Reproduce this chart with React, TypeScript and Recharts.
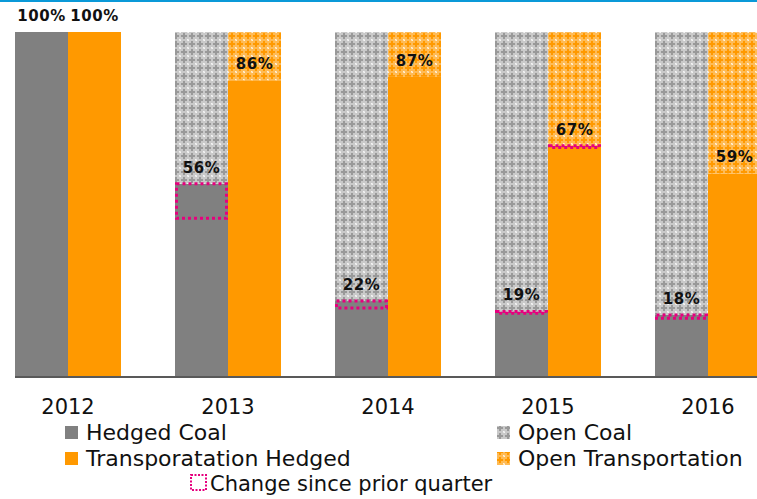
import React from "react";
import {
  BarChart,
  Bar,
  XAxis,
  YAxis,
  LabelList,
  ReferenceLine,
} from "recharts";

// values (percent of expected volume)
const years = ["2012", "2013", "2014", "2015", "2016"];
const hedgedCoal = [100, 56, 22, 19, 18];
const transHedged = [100, 86, 87, 67, 59];
// where the hedged level sat one quarter earlier (dotted "change" box)
const prevCoal: (number | null)[] = [null, 46, 20, 18.5, 17];
const prevTrans: (number | null)[] = [null, null, null, 66.5, null];

const GREY = "#808080";
const ORANGE = "#ff9900";
const MAGENTA = "#e6007e";
const FONT = "'DejaVu Sans', Verdana, sans-serif";

const data = years.map((year, i) => ({
  year,
  hedgedCoal: hedgedCoal[i],
  openCoal: 100 - hedgedCoal[i],
  prevCoal: prevCoal[i],
  transHedged: transHedged[i],
  openTrans: 100 - transHedged[i],
  prevTrans: prevTrans[i],
}));

const legendItems = [
  { name: "Hedged Coal", fill: GREY },
  { name: "Open Coal", fill: "url(#patCoal)" },
  { name: "Transporatation Hedged", fill: ORANGE },
  { name: "Open Transportation", fill: "url(#patTrans)" },
];

function Patterns() {
  return (
    <defs>
      <pattern id="patCoal" width="8" height="8" patternUnits="userSpaceOnUse">
        <rect width="8" height="8" fill="#c9c9c9" />
        <rect x="3" y="1" width="2" height="6" fill="#999999" />
        <rect x="1" y="3" width="6" height="2" fill="#999999" />
        <rect x="0" y="0" width="1" height="1" fill="#f4f4f4" />
        <rect x="7" y="7" width="1" height="1" fill="#f4f4f4" />
        <rect x="7" y="0" width="1" height="1" fill="#e6e6e6" />
        <rect x="0" y="7" width="1" height="1" fill="#e6e6e6" />
      </pattern>
      <pattern id="patTrans" width="8" height="8" patternUnits="userSpaceOnUse">
        <rect width="8" height="8" fill="#ffbb55" />
        <rect x="3" y="1" width="2" height="6" fill={ORANGE} />
        <rect x="1" y="3" width="6" height="2" fill={ORANGE} />
        <rect x="0" y="0" width="1" height="1" fill="#fff1dc" />
        <rect x="7" y="7" width="1" height="1" fill="#fff1dc" />
        <rect x="7" y="0" width="1" height="1" fill="#ffdca8" />
        <rect x="0" y="7" width="1" height="1" fill="#ffdca8" />
      </pattern>
    </defs>
  );
}

// open segment + dotted box showing the move since prior quarter
const makeOpenShape = (hedgedKey: string, prevKey: string) => (props: any) => {
  const { x, y, width, height, fill, payload } = props;
  const cur = payload[hedgedKey];
  const prev = payload[prevKey];
  const open = 100 - cur;
  let box = null;
  if (prev != null && open > 0 && height > 0) {
    const ppu = height / open;
    const top = y + height;
    const bottom = top + (cur - prev) * ppu;
    box = (
      <rect
        x={x + 1.5}
        y={top}
        width={width - 3}
        height={Math.max(bottom - top, 0.01)}
        fill="none"
        stroke={MAGENTA}
        strokeWidth={3}
        strokeDasharray="3 3"
      />
    );
  }
  return (
    <g>
      {height > 0 && <rect x={x} y={y} width={width} height={height} fill={fill} />}
      {box}
    </g>
  );
};

const renderPct = (props: any) => {
  const { x, y, width, height, value } = props;
  return (
    <text
      x={x + width / 2}
      y={y + height - 11}
      textAnchor="middle"
      fontFamily={FONT}
      fontSize={15}
      fontWeight="bold"
      letterSpacing={0.5}
      fill="#111"
    >
      {value}%
    </text>
  );
};

const YearTick = (props: any) => {
  const { x, y, payload } = props;
  return (
    <text
      x={x}
      y={y + 29}
      textAnchor="middle"
      fontFamily={FONT}
      fontSize={21}
      fill="#111"
    >
      {payload.value}
    </text>
  );
};

const BaseLine = (props: any) => {
  const { x1, y1, x2, y2 } = props;
  return <line x1={x1 + 27} y1={y1} x2={x2} y2={y2} stroke="#595959" strokeWidth={2} />;
};

function ChartLegend() {
  const cols = [65, 497];
  const rows = [440, 466];
  return (
    <svg width={757} height={499} style={{ position: "absolute", left: 0, top: 0 }}>
      <Patterns />
      {legendItems.map((item, i) => {
        const cx = cols[i % 2];
        const by = rows[Math.floor(i / 2)];
        return (
          <g key={item.name}>
            <rect x={cx} y={by - 14} width={13} height={13} fill={item.fill} />
            <text x={cx + 21} y={by} fontFamily={FONT} fontSize={22} fill="#111">
              {item.name}
            </text>
          </g>
        );
      })}
      <rect
        x={191}
        y={475}
        width={15}
        height={15}
        fill="none"
        stroke={MAGENTA}
        strokeWidth={2}
        strokeDasharray="2 1.5"
      />
      <text x={210} y={491} fontFamily={FONT} fontSize={21} fill="#111">
        Change since prior quarter
      </text>
    </svg>
  );
}

export default function App() {
  return (
    <div
      style={{
        position: "absolute",
        left: 0,
        top: 0,
        width: 757,
        height: 499,
        overflow: "hidden",
        background: "#fff",
      }}
    >
      <div style={{ position: "absolute", left: 0, top: 0, width: 757, height: 2, background: "#0a99d8" }} />
      <div style={{ position: "absolute", left: -12, top: 0 }}>
        <BarChart
          width={800}
          height={499}
          data={data}
          margin={{ top: 32, right: 0, bottom: 82, left: 0 }}
          barCategoryGap="16.875%"
          barGap={0}
        >
          <Patterns />
          <XAxis
            dataKey="year"
            height={40}
            axisLine={false}
            tickLine={false}
            tick={<YearTick />}
            interval={0}
          />
          <YAxis hide domain={[0, 100]} />
          <Bar dataKey="hedgedCoal" stackId="coal" fill={GREY} isAnimationActive={false} />
          <Bar
            dataKey="openCoal"
            stackId="coal"
            fill="url(#patCoal)"
            shape={makeOpenShape("hedgedCoal", "prevCoal")}
            isAnimationActive={false}
          >
            <LabelList dataKey="hedgedCoal" content={renderPct} />
          </Bar>
          <Bar dataKey="transHedged" stackId="trans" fill={ORANGE} isAnimationActive={false} />
          <Bar
            dataKey="openTrans"
            stackId="trans"
            fill="url(#patTrans)"
            shape={makeOpenShape("transHedged", "prevTrans")}
            isAnimationActive={false}
          >
            <LabelList dataKey="transHedged" content={renderPct} />
          </Bar>
          <ReferenceLine y={0} shape={<BaseLine />} />
        </BarChart>
      </div>
      <ChartLegend />
    </div>
  );
}
